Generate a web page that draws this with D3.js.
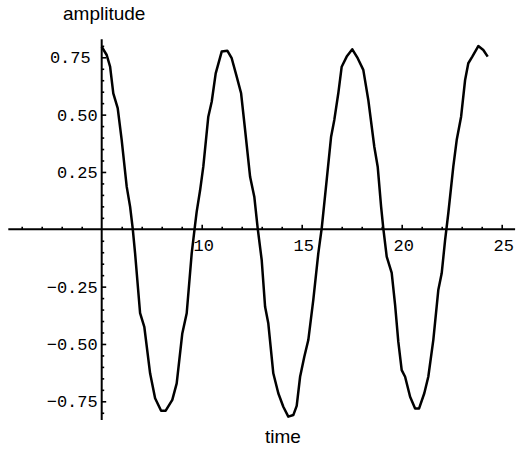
<!DOCTYPE html>
<html>
<head>
<meta charset="utf-8">
<script src="https://cdn.jsdelivr.net/npm/d3@7"></script>
<style>
  html, body { margin: 0; padding: 0; background: #fff; }
  svg { display: block; }
</style>
</head>
<body>
<svg id="chart" width="516" height="449"></svg>
<script>
// ---- data ----
const timeValues = [5.0, 5.25, 5.42, 5.58, 5.8, 6.0, 6.25, 6.42, 6.55, 6.67, 6.92, 7.13, 7.42, 7.67, 7.97, 8.2, 8.53, 8.75, 9.03, 9.25, 9.5, 9.67, 9.75, 9.92, 10.08, 10.33, 10.5, 10.7, 11.0, 11.28, 11.5, 11.75, 11.97, 12.17, 12.42, 12.63, 12.8, 13.0, 13.17, 13.33, 13.58, 13.83, 14.08, 14.33, 14.58, 14.75, 14.92, 15.13, 15.33, 15.58, 15.83, 16.0, 16.25, 16.47, 16.63, 16.83, 17.0, 17.25, 17.53, 17.8, 18.08, 18.33, 18.63, 18.8, 18.97, 19.08, 19.25, 19.5, 19.67, 19.83, 20.0, 20.17, 20.42, 20.67, 20.87, 21.13, 21.33, 21.58, 21.83, 22.0, 22.17, 22.33, 22.58, 22.75, 22.97, 23.17, 23.33, 23.53, 23.83, 24.08, 24.3];
const amplitudeValues = [0.796, 0.76, 0.709, 0.593, 0.528, 0.389, 0.186, 0.099, 0.004, -0.105, -0.366, -0.425, -0.628, -0.737, -0.791, -0.791, -0.744, -0.672, -0.454, -0.366, -0.105, 0.02, 0.077, 0.17, 0.273, 0.491, 0.556, 0.68, 0.775, 0.779, 0.746, 0.666, 0.593, 0.433, 0.229, 0.142, 0.004, -0.134, -0.338, -0.41, -0.628, -0.715, -0.774, -0.817, -0.81, -0.77, -0.643, -0.556, -0.483, -0.308, -0.105, 0.004, 0.215, 0.404, 0.477, 0.593, 0.709, 0.753, 0.785, 0.746, 0.695, 0.564, 0.36, 0.273, 0.099, 0.004, -0.119, -0.19, -0.33, -0.49, -0.614, -0.643, -0.73, -0.781, -0.781, -0.715, -0.643, -0.483, -0.265, -0.192, -0.047, 0.07, 0.273, 0.389, 0.491, 0.651, 0.724, 0.753, 0.799, 0.782, 0.753];
const xMajorTicks = [10, 15, 20, 25];
const xMinorTicks = [1, 2, 3, 4, 6, 7, 8, 9, 11, 12, 13, 14, 16, 17, 18, 19, 21, 22, 23, 24];
const yMajorTicks = [-0.75, -0.5, -0.25, 0.25, 0.5, 0.75];
const yMinorTicks = [-0.8, -0.7, -0.65, -0.6, -0.55, -0.45, -0.4, -0.35, -0.3, -0.2, -0.15, -0.1, -0.05, 0.05, 0.1, 0.15, 0.2, 0.3, 0.35, 0.4, 0.45, 0.55, 0.6, 0.65, 0.7, 0.8];
const xAxisExtent = [0.33, 25.67];
const yAxisExtent = [-0.832, 0.829];
const axesOrigin = [5, 0];
const xTitle = "time";
const yTitle = "amplitude";

// ---- scales ----
const x = d3.scaleLinear().domain([0, 25]).range([1.7, 501.7]);
const y = d3.scaleLinear().domain([-0.75, 0.75]).range([401.3, 57.3]);

const svg = d3.select("#chart");
const x0 = x(axesOrigin[0]);
const y0 = y(axesOrigin[1]);

// axes lines
svg.append("line")
  .attr("x1", x(xAxisExtent[0])).attr("x2", x(xAxisExtent[1]))
  .attr("y1", y0).attr("y2", y0)
  .attr("stroke", "#000").attr("stroke-width", 2);
svg.append("line")
  .attr("x1", x0).attr("x2", x0)
  .attr("y1", y(yAxisExtent[1])).attr("y2", y(yAxisExtent[0]))
  .attr("stroke", "#000").attr("stroke-width", 2);

const tickFont = "'Liberation Mono', 'Courier New', monospace";

// x minor ticks
const xMinorAxis = d3.axisBottom(x).tickValues(xMinorTicks).tickSizeInner(-2.5).tickSizeOuter(0).tickFormat("");
svg.append("g").attr("transform", `translate(0,${y0})`).call(xMinorAxis)
  .call(g => g.select(".domain").remove())
  .call(g => g.selectAll("line").attr("stroke-width", 1.6));

// x major ticks
const xMajorAxis = d3.axisBottom(x).tickValues(xMajorTicks).tickSizeInner(-4.5).tickSizeOuter(0).tickPadding(10)
  .tickFormat(d3.format("d"));
svg.append("g").attr("transform", `translate(0,${y0})`).call(xMajorAxis)
  .call(g => g.select(".domain").remove())
  .call(g => g.selectAll("line").attr("stroke-width", 1.6))
  .call(g => g.selectAll("text").attr("font-family", tickFont).attr("font-size", 17).attr("fill", "#000").attr("dx", 1.5));

// y minor ticks
const yMinorAxis = d3.axisLeft(y).tickValues(yMinorTicks).tickSizeInner(-2.5).tickSizeOuter(0).tickFormat("");
svg.append("g").attr("transform", `translate(${x0},0)`).call(yMinorAxis)
  .call(g => g.select(".domain").remove())
  .call(g => g.selectAll("line").attr("stroke-width", 1.6));

// y major ticks
const yMajorAxis = d3.axisLeft(y).tickValues(yMajorTicks).tickSizeInner(-4.5).tickSizeOuter(0).tickPadding(4)
  .tickFormat(d3.format(".2f"));
svg.append("g").attr("transform", `translate(${x0},0)`).call(yMajorAxis)
  .call(g => g.select(".domain").remove())
  .call(g => g.selectAll("line").attr("stroke-width", 1.6))
  .call(g => g.selectAll("text").attr("font-family", tickFont).attr("font-size", 17).attr("fill", "#000")
    .text(d => d3.format(".2f")(d).replace("-", "\u2212"))
    .attr("dx", d => d === 0.75 ? -7 : 0));

// curve
const pts = timeValues.map((t, i) => [t, amplitudeValues[i]]);
const line = d3.line().x(d => x(d[0])).y(d => y(d[1])).curve(d3.curveLinear);
svg.append("path").datum(pts)
  .attr("d", line)
  .attr("fill", "none").attr("stroke", "#000").attr("stroke-width", 2.5)
  .attr("stroke-linejoin", "round");

// titles
svg.append("text").attr("x", 63).attr("y", 20)
  .attr("font-family", "'Liberation Sans', Arial, sans-serif").attr("font-size", 19)
  .attr("fill", "#000").text(yTitle);
svg.append("text").attr("x", 265).attr("y", 443)
  .attr("font-family", "'Liberation Sans', Arial, sans-serif").attr("font-size", 19)
  .attr("fill", "#000").text(xTitle);
</script>
</body>
</html>
